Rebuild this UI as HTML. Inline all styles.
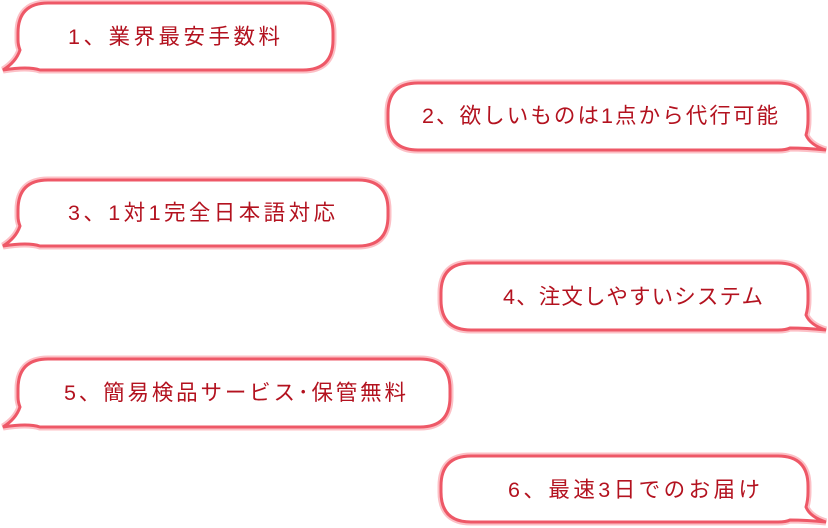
<!DOCTYPE html>
<html><head><meta charset="utf-8"><style>
html,body{margin:0;padding:0;background:#fff;width:828px;height:528px;overflow:hidden}
text{font-family:"Liberation Sans","Noto Sans CJK JP",sans-serif;font-size:21.5px;fill:#b3121f;dominant-baseline:central}
.o{fill:none;stroke:#fcc0c6;stroke-width:7}
.i{fill:#fff;stroke:#ee5867;stroke-width:3}
</style></head><body>
<svg width="828" height="528" viewBox="0 0 828 528" xmlns="http://www.w3.org/2000/svg">
<defs>
<path id="b1" d="M48,3 H303 Q333,3 333,33 V40 Q333,70 303,70 H40 Q28,66 3,70 Q16,62 20,50 Q18,45 18,40 V33 Q18,3 48,3 Z"/>
<path id="b2" d="M418,83 H778 Q808,83 808,113 V120 Q808,128 806,135 Q810,145 826,150 Q806,148 790,148 Q786,150 778,150 H418 Q388,150 388,120 V113 Q388,83 418,83 Z"/>
<path id="b3" d="M48,180 H358 Q388,180 388,210 V216 Q388,246 358,246 H40 Q28,242 3,246 Q16,238 20,226 Q18,221 18,216 V210 Q18,180 48,180 Z"/>
<path id="b4" d="M471,263 H778 Q808,263 808,293 V300 Q808,308 806,315 Q810,325 826,330 Q806,328 790,328 Q786,330 778,330 H471 Q441,330 441,300 V293 Q441,263 471,263 Z"/>
<path id="b5" d="M48,359 H420 Q450,359 450,389 V397 Q450,427 420,427 H40 Q28,423 3,427 Q16,419 20,407 Q18,402 18,397 V389 Q18,359 48,359 Z"/>
<path id="b6" d="M471,456 H778 Q808,456 808,486 V492 Q808,500 806,507 Q810,517 826,522 Q806,520 790,520 Q786,522 778,522 H471 Q441,522 441,492 V486 Q441,456 471,456 Z"/>
</defs>
<use href="#b1" class="o"/><use href="#b1" class="i"/>
<use href="#b2" class="o"/><use href="#b2" class="i"/>
<use href="#b3" class="o"/><use href="#b3" class="i"/>
<use href="#b4" class="o"/><use href="#b4" class="i"/>
<use href="#b5" class="o"/><use href="#b5" class="i"/>
<use href="#b6" class="o"/><use href="#b6" class="i"/>
<text x="68" y="37" textLength="212" lengthAdjust="spacing">1、業界最安手数料</text>
<text x="422" y="116" textLength="356" lengthAdjust="spacing">2、欲しいものは1点から代行可能</text>
<text x="68" y="213" textLength="267" lengthAdjust="spacing">3、1対1完全日本語対応</text>
<text x="503" y="297" textLength="260" lengthAdjust="spacing">4、注文しやすいシステム</text>
<text x="64" y="393" textLength="342" lengthAdjust="spacing">5、簡易検品サービス･保管無料</text>
<text x="508" y="490" textLength="252" lengthAdjust="spacing">6、最速3日でのお届け</text>
</svg>
</body></html>
